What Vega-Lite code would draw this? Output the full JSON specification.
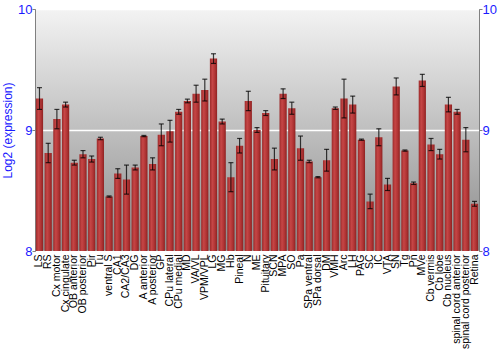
{
  "$schema": "https://vega.github.io/schema/vega-lite/v6.json",
  "width": 444,
  "height": 242,
  "autosize": {"type": "none"},
  "padding": {"left": 35, "top": 9, "right": 21, "bottom": 99},
  "background": "white",
  "config": {
    "view": {
      "stroke": "#808080",
      "strokeWidth": 1,
      "fill": {"gradient": "linear", "x1": 0, "y1": 0, "x2": 0, "y2": 1, "stops": [{"offset": 0, "color": "#f3f3f3"}, {"offset": 1, "color": "#8a8a8a"}]}
    },
    "font": "Liberation Sans"
  },
  "data": {
    "values": [
      {"region": "LS", "v": 9.26, "e": 0.09},
      {"region": "RS", "v": 8.81, "e": 0.08},
      {"region": "Cx motor", "v": 9.09, "e": 0.08},
      {"region": "Cx cingulate", "v": 9.21, "e": 0.02},
      {"region": "OB anterior", "v": 8.73, "e": 0.02},
      {"region": "OB posterior", "v": 8.80, "e": 0.03},
      {"region": "Pir", "v": 8.76, "e": 0.025},
      {"region": "Tu", "v": 8.93, "e": 0.01},
      {"region": "ventral S", "v": 8.45, "e": 0.005},
      {"region": "CA1", "v": 8.64, "e": 0.04},
      {"region": "CA2/CA3", "v": 8.59, "e": 0.12},
      {"region": "DG", "v": 8.69, "e": 0.02},
      {"region": "A anterior", "v": 8.95, "e": 0.005},
      {"region": "A posterior", "v": 8.72, "e": 0.05},
      {"region": "GP", "v": 8.96, "e": 0.09},
      {"region": "CPu lateral", "v": 8.99, "e": 0.09},
      {"region": "CPu medial", "v": 9.15, "e": 0.02},
      {"region": "MD", "v": 9.24, "e": 0.015},
      {"region": "VA/VL", "v": 9.30, "e": 0.07},
      {"region": "VPM/VPL", "v": 9.33, "e": 0.09},
      {"region": "LG", "v": 9.59, "e": 0.04},
      {"region": "MG", "v": 9.07, "e": 0.02},
      {"region": "Hb", "v": 8.61, "e": 0.12},
      {"region": "Pineal", "v": 8.87, "e": 0.06},
      {"region": "N", "v": 9.24, "e": 0.08},
      {"region": "ME", "v": 9.00, "e": 0.02},
      {"region": "Pituitary", "v": 9.14, "e": 0.02},
      {"region": "SCN", "v": 8.76, "e": 0.09},
      {"region": "MPA", "v": 9.30, "e": 0.04},
      {"region": "SO", "v": 9.18, "e": 0.05},
      {"region": "Pa", "v": 8.85, "e": 0.10},
      {"region": "SPa ventral", "v": 8.74, "e": 0.01},
      {"region": "SPa dorsal", "v": 8.61, "e": 0.005},
      {"region": "DM", "v": 8.75, "e": 0.09},
      {"region": "VMH", "v": 9.18, "e": 0.01},
      {"region": "Arc", "v": 9.26, "e": 0.16},
      {"region": "LH", "v": 9.21, "e": 0.07},
      {"region": "PAG", "v": 8.92, "e": 0.005},
      {"region": "SC", "v": 8.41, "e": 0.06},
      {"region": "IC", "v": 8.94, "e": 0.07},
      {"region": "VTA", "v": 8.55, "e": 0.05},
      {"region": "SN", "v": 9.36, "e": 0.07},
      {"region": "Tg", "v": 8.83, "e": 0.005},
      {"region": "Pn", "v": 8.56, "e": 0.01},
      {"region": "MVe", "v": 9.41, "e": 0.05},
      {"region": "Cb vermis", "v": 8.88, "e": 0.05},
      {"region": "Cb lobe", "v": 8.80, "e": 0.04},
      {"region": "Cb nucleus", "v": 9.21, "e": 0.06},
      {"region": "spinal cord anterior", "v": 9.15, "e": 0.02},
      {"region": "spinal cord posterior", "v": 8.92, "e": 0.10},
      {"region": "Retina", "v": 8.39, "e": 0.02}
    ]
  },
  "transform": [
    {"calculate": "datum.v - datum.e", "as": "lo"},
    {"calculate": "datum.v + datum.e", "as": "hi"}
  ],
  "encoding": {
    "x": {
      "field": "region", "type": "nominal", "sort": null,
      "scale": {"paddingInner": 0.17, "paddingOuter": 0.1},
      "axis": {"title": null, "labelAngle": -90, "labelFontSize": 10.5, "labelColor": "black", "labelFont": "Liberation Sans", "ticks": false, "domain": false, "labelPadding": 3, "labelBaseline": "middle"}
    }
  },
  "layer": [
    {
      "mark": {"type": "bar", "clip": true, "color": {"gradient": "linear", "x1": 0, "y1": 0, "x2": 1, "y2": 0, "stops": [{"offset": 0, "color": "#9c2a2a"}, {"offset": 0.35, "color": "#c64646"}, {"offset": 0.7, "color": "#b03434"}, {"offset": 1, "color": "#8e2222"}]}},
      "encoding": {
        "y": {
          "field": "v", "type": "quantitative",
          "scale": {"domain": [8, 10], "zero": false, "nice": false},
          "axis": {"zindex": 0, "title": "Log2 (expression)", "titleColor": "#1a1aff", "titleFontSize": 12, "titleFontWeight": "normal", "titleFont": "Liberation Sans", "titlePadding": 3, "values": [8, 9, 10], "labelExpr": "datum.value", "labelColor": "#1a1aff", "labelFontSize": 13, "labelFont": "Liberation Sans", "grid": true, "gridColor": "white", "gridWidth": 1.5, "domainColor": "#808080", "tickColor": "#808080", "tickSize": 3, "labelPadding": 0}
        }
      }
    },
    {
      "mark": {"type": "rule", "color": "black", "opacity": 0.75, "strokeWidth": 1.2},
      "encoding": {
        "y": {"field": "lo", "type": "quantitative", "axis": null},
        "y2": {"field": "hi"}
      }
    },
    {
      "mark": {"type": "tick", "color": "black", "opacity": 0.75, "thickness": 1.2, "size": 5},
      "encoding": {"y": {"field": "lo", "type": "quantitative", "axis": null}}
    },
    {
      "mark": {"type": "tick", "color": "black", "opacity": 0.75, "thickness": 1.2, "size": 5},
      "encoding": {"y": {"field": "hi", "type": "quantitative", "axis": null}}
    },
    {
      "mark": {"type": "rule", "opacity": 0},
      "encoding": {
        "y": {
          "field": "v", "type": "quantitative",
          "axis": {"orient": "right", "title": null, "values": [8, 9, 10], "labelExpr": "datum.value", "labelColor": "#1a1aff", "labelFontSize": 13, "labelFont": "Liberation Sans", "grid": false, "domainColor": "#808080", "tickColor": "#808080", "tickSize": 3, "labelPadding": 0}
        }
      }
    }
  ],
  "resolve": {"axis": {"y": "independent"}}
}
